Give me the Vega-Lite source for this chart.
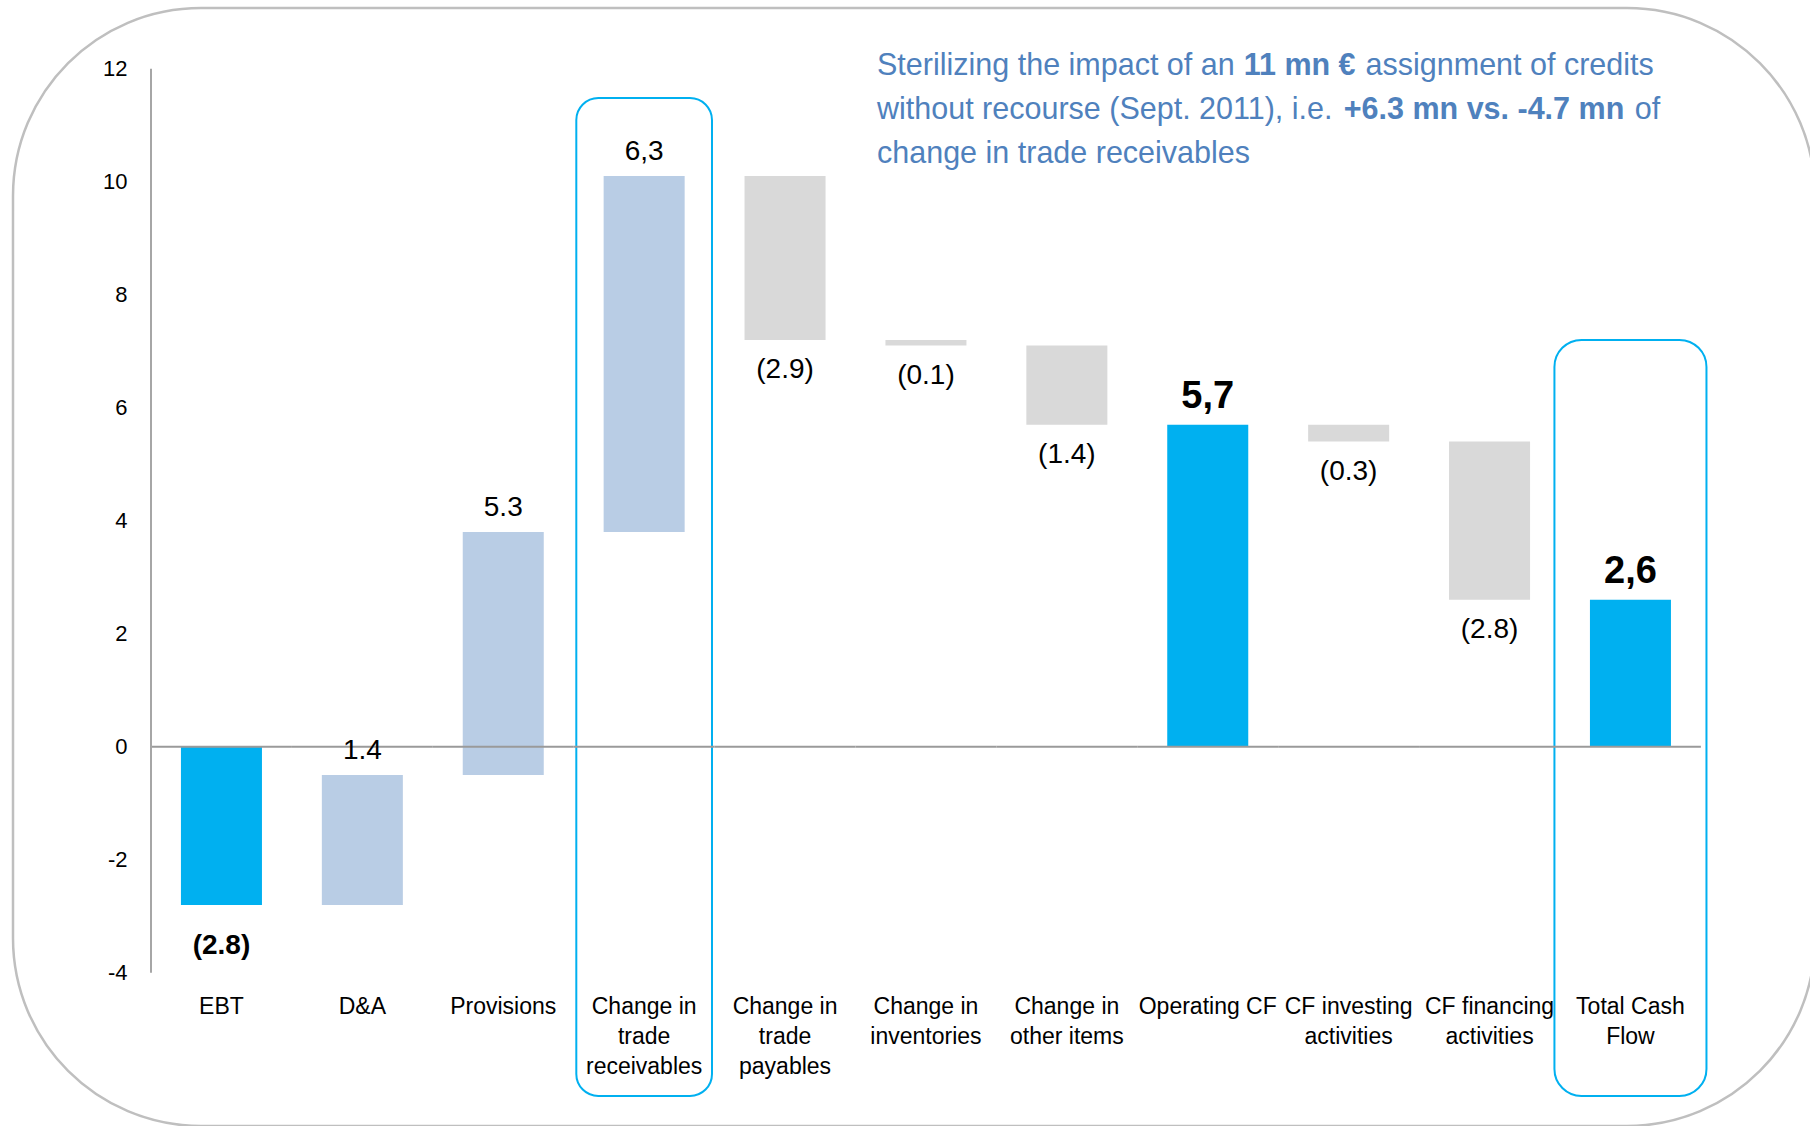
{
  "$schema": "https://vega.github.io/schema/vega-lite/v6.json",
  "width": 1802,
  "height": 1118,
  "autosize": {"type": "none"},
  "padding": {"left": 13, "top": 8, "right": 0, "bottom": 0},
  "background": "white",
  "config": {
    "view": {"stroke": "#BFBFBF", "strokeWidth": 2.5, "cornerRadius": 188, "fill": "white"},
    "font": "Liberation Sans, Arial, sans-serif",
    "text": {"font": "Liberation Sans, Arial, sans-serif"}
  },
  "datasets": {
    "flows": [
      {"category": "EBT", "start": 0, "end": -2.8, "kind": "start", "label": "(2.8)"},
      {"category": "D&A", "start": -2.8, "end": -0.5, "kind": "increase", "label": "1.4"},
      {"category": "Provisions", "start": -0.5, "end": 3.8, "kind": "increase", "label": "5.3"},
      {"category": "Change in|trade|receivables", "start": 3.8, "end": 10.1, "kind": "increase", "label": "6,3"},
      {"category": "Change in|trade|payables", "start": 10.1, "end": 7.2, "kind": "decrease", "label": "(2.9)"},
      {"category": "Change in|inventories", "start": 7.2, "end": 7.1, "kind": "decrease", "label": "(0.1)"},
      {"category": "Change in|other items", "start": 7.1, "end": 5.7, "kind": "decrease", "label": "(1.4)"},
      {"category": "Operating CF", "start": 0, "end": 5.7, "kind": "total", "label": "5,7"},
      {"category": "CF investing|activities", "start": 5.7, "end": 5.4, "kind": "decrease", "label": "(0.3)"},
      {"category": "CF financing|activities", "start": 5.4, "end": 2.6, "kind": "decrease", "label": "(2.8)"},
      {"category": "Total Cash|Flow", "start": 0, "end": 2.6, "kind": "total", "label": "2,6"}
    ],
    "highlights": [
      {"category": "Change in|trade|receivables", "top": 11.48, "bottom": -6.18},
      {"category": "Total Cash|Flow", "top": 7.2, "bottom": -6.18}
    ],
    "one": [{}]
  },
  "data": {"name": "flows"},
  "layer": [
    {
      "data": {"name": "highlights"},
      "transform": [{"filter": "datum.category == 'Change in|trade|receivables'"}],
      "mark": {"type": "bar", "fillOpacity": 0, "stroke": "#00B0F0", "strokeWidth": 2, "cornerRadius": 22, "width": {"band": 0.963}},
      "encoding": {
        "x": {"field": "category", "type": "nominal", "title": null},
        "y": {"field": "top", "type": "quantitative", "title": null},
        "y2": {"field": "bottom"}
      }
    },
    {
      "data": {"name": "highlights"},
      "transform": [{"filter": "datum.category == 'Total Cash|Flow'"}],
      "mark": {"type": "bar", "fillOpacity": 0, "stroke": "#00B0F0", "strokeWidth": 2, "cornerRadius": 27, "width": {"band": 1.079}},
      "encoding": {
        "x": {"field": "category", "type": "nominal", "title": null},
        "y": {"field": "top", "type": "quantitative", "title": null},
        "y2": {"field": "bottom"}
      }
    },
    {
      "mark": {"type": "bar", "width": {"band": 0.575}},
      "encoding": {
        "x": {
          "field": "category", "type": "nominal", "sort": null, "title": null,
          "scale": {
            "domain": ["EBT", "D&A", "Provisions", "Change in|trade|receivables", "Change in|trade|payables", "Change in|inventories", "Change in|other items", "Operating CF", "CF investing|activities", "CF financing|activities", "Total Cash|Flow"],
            "paddingInner": 0, "paddingOuter": 0.8946, "align": 0.5474
          },
          "axis": {
            "orient": "bottom", "offset": -113, "domain": false, "ticks": false, "tickSize": 0,
            "labelPadding": 0, "labelFontSize": 23, "labelLineHeight": 30, "labelBaseline": "alphabetic",
            "labelAlign": "center", "labelColor": "#000000", "labelAngle": 0, "labelLimit": 0,
            "labelFont": "Liberation Sans, Arial, sans-serif",
            "labelExpr": "split(datum.label, '|')", "title": null
          }
        },
        "y": {
          "field": "start", "type": "quantitative", "title": null,
          "scale": {"domain": [-6.713, 13.074], "nice": false, "zero": false},
          "axis": {
            "values": [-4, -2, 0, 2, 4, 6, 8, 10, 12], "offset": -138, "domain": false, "ticks": false, "tickSize": 0,
            "grid": false, "labelPadding": 24, "labelFontSize": 22, "labelColor": "#000000",
            "labelExpr": "'' + datum.value",
            "labelFont": "Liberation Sans, Arial, sans-serif", "title": null
          }
        },
        "y2": {"field": "end"},
        "color": {
          "field": "kind", "type": "nominal", "legend": null,
          "scale": {"domain": ["start", "increase", "decrease", "total"], "range": ["#00B0F0", "#B9CDE5", "#D9D9D9", "#00B0F0"]}
        }
      }
    },
    {
      "mark": {"type": "bar", "fillOpacity": 0, "stroke": "#9A9A9A", "strokeWidth": 2, "width": {"band": 1}},
      "encoding": {
        "x": {"field": "category", "type": "nominal", "title": null},
        "y": {"datum": 0, "type": "quantitative", "title": null},
        "y2": {"datum": 0}
      }
    },
    {
      "data": {"name": "one"},
      "mark": {"type": "rule", "stroke": "#A6A6A6", "strokeWidth": 2},
      "encoding": {
        "x": {"datum": "EBT", "type": "nominal", "bandPosition": 0, "title": null},
        "y": {"datum": -4, "type": "quantitative", "title": null},
        "y2": {"datum": 12}
      }
    },
    {
      "transform": [{"filter": "datum.kind == 'increase'"}],
      "mark": {"type": "text", "fontSize": 28, "baseline": "alphabetic", "dy": -16, "color": "#000000"},
      "encoding": {
        "x": {"field": "category", "type": "nominal", "title": null},
        "y": {"field": "end", "type": "quantitative", "title": null},
        "text": {"field": "label"}
      }
    },
    {
      "transform": [{"filter": "datum.kind == 'decrease'"}],
      "mark": {"type": "text", "fontSize": 28, "baseline": "alphabetic", "dy": 38, "color": "#000000"},
      "encoding": {
        "x": {"field": "category", "type": "nominal", "title": null},
        "y": {"field": "end", "type": "quantitative", "title": null},
        "text": {"field": "label"}
      }
    },
    {
      "transform": [{"filter": "datum.kind == 'start'"}],
      "mark": {"type": "text", "fontSize": 28, "fontWeight": "bold", "baseline": "alphabetic", "dy": 49, "color": "#000000"},
      "encoding": {
        "x": {"field": "category", "type": "nominal", "title": null},
        "y": {"field": "end", "type": "quantitative", "title": null},
        "text": {"field": "label"}
      }
    },
    {
      "transform": [{"filter": "datum.kind == 'total'"}],
      "mark": {"type": "text", "fontSize": 38, "fontWeight": "bold", "baseline": "alphabetic", "dy": -17, "color": "#000000"},
      "encoding": {
        "x": {"field": "category", "type": "nominal", "title": null},
        "y": {"field": "end", "type": "quantitative", "title": null},
        "text": {"field": "label"}
      }
    },
    {
      "data": {"name": "one"},
      "mark": {"type": "text", "text": "Sterilizing the impact of an", "align": "left", "baseline": "alphabetic", "fontSize": 30.5, "color": "#4F81BD"},
      "encoding": {
        "x": {"datum": "Change in|inventories", "type": "nominal", "bandPosition": 0.1526, "title": null},
        "y": {"datum": 11.888, "type": "quantitative", "title": null}
      }
    },
    {
      "data": {"name": "one"},
      "mark": {"type": "text", "text": "11 mn €", "align": "left", "baseline": "alphabetic", "fontSize": 30.5, "fontWeight": "bold", "color": "#4F81BD"},
      "encoding": {
        "x": {"datum": "Operating CF", "type": "nominal", "bandPosition": 0.755, "title": null},
        "y": {"datum": 11.888, "type": "quantitative", "title": null}
      }
    },
    {
      "data": {"name": "one"},
      "mark": {"type": "text", "text": "assignment of  credits", "align": "left", "baseline": "alphabetic", "fontSize": 30.5, "color": "#4F81BD"},
      "encoding": {
        "x": {"datum": "CF investing|activities", "type": "nominal", "bandPosition": 0.62, "title": null},
        "y": {"datum": 11.888, "type": "quantitative", "title": null}
      }
    },
    {
      "data": {"name": "one"},
      "mark": {"type": "text", "text": "without recourse (Sept. 2011), i.e.", "align": "left", "baseline": "alphabetic", "fontSize": 30.5, "color": "#4F81BD"},
      "encoding": {
        "x": {"datum": "Change in|inventories", "type": "nominal", "bandPosition": 0.1526, "title": null},
        "y": {"datum": 11.11, "type": "quantitative", "title": null}
      }
    },
    {
      "data": {"name": "one"},
      "mark": {"type": "text", "text": "+6.3 mn vs. -4.7 mn", "align": "left", "baseline": "alphabetic", "fontSize": 30.5, "fontWeight": "bold", "color": "#4F81BD"},
      "encoding": {
        "x": {"datum": "CF investing|activities", "type": "nominal", "bandPosition": 0.465, "title": null},
        "y": {"datum": 11.11, "type": "quantitative", "title": null}
      }
    },
    {
      "data": {"name": "one"},
      "mark": {"type": "text", "text": "of", "align": "left", "baseline": "alphabetic", "fontSize": 30.5, "color": "#4F81BD"},
      "encoding": {
        "x": {"datum": "Total Cash|Flow", "type": "nominal", "bandPosition": 0.53, "title": null},
        "y": {"datum": 11.11, "type": "quantitative", "title": null}
      }
    },
    {
      "data": {"name": "one"},
      "mark": {"type": "text", "text": "change in trade receivables", "align": "left", "baseline": "alphabetic", "fontSize": 30.5, "color": "#4F81BD"},
      "encoding": {
        "x": {"datum": "Change in|inventories", "type": "nominal", "bandPosition": 0.1526, "title": null},
        "y": {"datum": 10.331, "type": "quantitative", "title": null}
      }
    }
  ]
}
